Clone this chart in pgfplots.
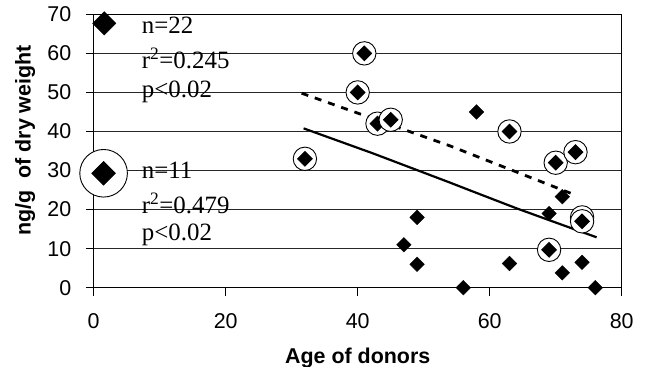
\documentclass[border=0pt]{standalone}
\usepackage{fontspec}
\setmainfont{Liberation Serif}
\newfontfamily\arial{Liberation Sans}
\usepackage{pgfplots}
\pgfplotsset{compat=1.18}

\pgfdeclareplotmark{diam}{%
  \pgfpathmoveto{\pgfqpoint{0bp}{7.3bp}}%
  \pgfpathlineto{\pgfqpoint{7.3bp}{0bp}}%
  \pgfpathlineto{\pgfqpoint{0bp}{-7.3bp}}%
  \pgfpathlineto{\pgfqpoint{-7.3bp}{0bp}}%
  \pgfpathclose
  \pgfsetfillcolor{black}\pgfsetstrokecolor{black}%
  \pgfusepathqfillstroke
}
\pgfdeclareplotmark{cdiam}{%
  \pgfsetlinewidth{0.9bp}%
  \pgfpathcircle{\pgfpointorigin}{11.7bp}%
  \pgfsetfillcolor{white}\pgfsetstrokecolor{black}%
  \pgfusepathqfillstroke
  \pgfpathmoveto{\pgfqpoint{0bp}{7.3bp}}%
  \pgfpathlineto{\pgfqpoint{7.3bp}{0bp}}%
  \pgfpathlineto{\pgfqpoint{0bp}{-7.3bp}}%
  \pgfpathlineto{\pgfqpoint{-7.3bp}{0bp}}%
  \pgfpathclose
  \pgfsetfillcolor{black}%
  \pgfusepathqfillstroke
}
\pgfdeclareplotmark{bigdiam}{%
  \pgfpathmoveto{\pgfqpoint{0bp}{11.7bp}}%
  \pgfpathlineto{\pgfqpoint{11.7bp}{0bp}}%
  \pgfpathlineto{\pgfqpoint{0bp}{-11.7bp}}%
  \pgfpathlineto{\pgfqpoint{-11.7bp}{0bp}}%
  \pgfpathclose
  \pgfsetfillcolor{black}\pgfsetstrokecolor{black}%
  \pgfusepathqfillstroke
}
\pgfdeclareplotmark{bigcdiam}{%
  \pgfsetlinewidth{0.9bp}%
  \pgfpathcircle{\pgfpointorigin}{23.8bp}%
  \pgfsetfillcolor{white}\pgfsetstrokecolor{black}%
  \pgfusepathqfillstroke
  \pgfpathmoveto{\pgfqpoint{0bp}{11.7bp}}%
  \pgfpathlineto{\pgfqpoint{11.7bp}{0bp}}%
  \pgfpathlineto{\pgfqpoint{0bp}{-11.7bp}}%
  \pgfpathlineto{\pgfqpoint{-11.7bp}{0bp}}%
  \pgfpathclose
  \pgfsetfillcolor{black}%
  \pgfusepathqfillstroke
}

\begin{document}
\begin{tikzpicture}
\path[use as bounding box] (-93.7bp,-79.3bp) rectangle (551.3bp,287.7bp);
\begin{axis}[
  at={(0,0)}, anchor=south west,
  scale only axis, width=528bp, height=273.4bp,
  xmin=0, xmax=80, ymin=0, ymax=70,
  xtick={0,20,40,60,80}, ytick={0,10,...,70},
  tick align=outside, tick pos=left,
  major tick length=8bp,
  tick style={black, line width=0.9bp},
  ymajorgrids, grid style={black!85, line width=1bp},
  axis line style={black, line width=1bp},
  /pgf/number format/assume math mode=true,
  ticklabel style={font=\arial\fontsize{21.5}{24}\selectfont},
  xticklabel style={yshift=-14bp},
  yticklabel style={xshift=-11bp},
  xlabel={Age of donors},
  ylabel={ng/g~ of dry weight},
  label style={font=\arial\bfseries\fontsize{21.5}{24}\selectfont},
  xlabel style={at={(axis description cs:0.5,-0.2575)}, anchor=center},
  ylabel style={at={(axis description cs:-0.13,0.5385)}, anchor=center},
  clip=false,
]
% trend lines
\addplot[black, line width=2.2bp, no marks] coordinates {
  (31.8,40.8) (42.3,34.4) (54.0,26.9) (57.5,24.6) (64.1,20.3) (76.2,12.9)};
\addplot[black, line width=2.8bp, no marks, dash pattern=on 7bp off 7bp] coordinates {
  (31.5,49.8) (54.0,36.3) (72.7,23.9)};
% plain points
\addplot[only marks, mark=diam] coordinates {
  (49,18) (47,11) (49,6) (58,45) (71,23.3) (69,19) (63,6.2) (74,6.5) (71,3.8) (56,0) (76,0)};
% circled points
\addplot[only marks, mark=cdiam] coordinates {
  (32,33) (40,50) (41,60) (43,42) (45,43) (63,40) (70,32) (73,34.7) (74,18) (74,17) (69,9.7)};
% key markers
\addplot[only marks, mark=bigdiam] coordinates {(1.6,67.7)};
\addplot[only marks, mark=bigcdiam] coordinates {(1.5,29.3)};
% annotations
\begin{scope}[every node/.style={anchor=west, inner sep=0pt, font=\fontsize{25}{28}\selectfont}]
\node at (axis cs:7.27,67.3) {n=22};
\node at (axis cs:7.27,58.7) {r\textsuperscript{2}=0.245};
\node at (axis cs:7.27,50.1) {p<0.02};
\node at (axis cs:7.27,30.0) {n=11};
\node at (axis cs:7.27,21.6) {r\textsuperscript{2}=0.479};
\node at (axis cs:7.27,13.5) {p<0.02};
\end{scope}
\end{axis}
\end{tikzpicture}
\end{document}
